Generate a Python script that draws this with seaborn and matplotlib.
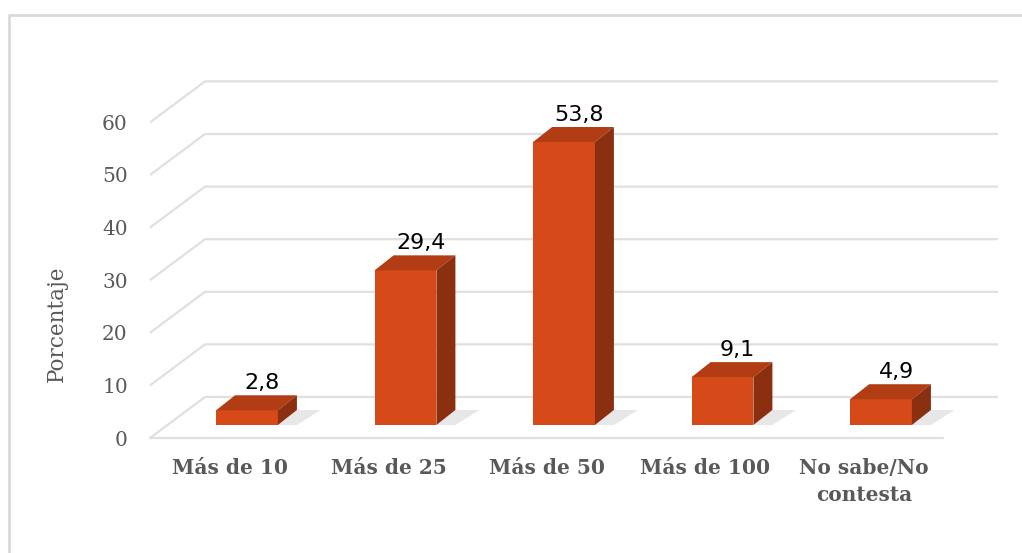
import matplotlib
matplotlib.use('Agg')
import matplotlib.pyplot as plt
from matplotlib.patches import Polygon
from matplotlib.lines import Line2D
import seaborn as sns
import pandas as pd

# Data
categorias = ['Más de 10', 'Más de 25', 'Más de 50', 'Más de 100', 'No sabe/No\ncontesta']
porcentajes = [2.8, 29.4, 53.8, 9.1, 4.9]
etiquetas = ['2,8', '29,4', '53,8', '9,1', '4,9']
ticks_y = [0, 10, 20, 30, 40, 50, 60]

df = pd.DataFrame({'Categoria': categorias, 'Porcentaje': porcentajes})

sns.set_theme(style='white')
plt.rcParams['font.family'] = ['DejaVu Serif']

W, H = 1022, 553
fig = plt.figure(figsize=(W / 100, H / 100), dpi=100)

# pixel scale of the data space (bars plane)
PX_X = 158.5   # px per category
PX_Y = 5.26    # px per percent
x0_px, y0_px = 247, 425  # pixel of category 0 / value 0

def px2x(px):
    return (px - x0_px) / PX_X

def py2y(py):
    return (y0_px - py) / PX_Y

left, right, top, bottom = 150, 1000, 75, 440
ax = fig.add_axes([left / W, 1 - bottom / H, (right - left) / W, (bottom - top) / H])

front = '#D64A1A'
top_c = '#B23C13'
side = '#8A2F0F'

sns.barplot(data=df, x='Categoria', y='Porcentaje', color=front, width=0.39,
            saturation=1, ax=ax, zorder=3)

# oblique offsets (data units)
fdx, fdy = -17 / PX_X, -13 / PX_Y     # front of floor
bdx, bdy = 38 / PX_X, 28 / PX_Y       # back wall
ddx, ddy = 19 / PX_X, 15 / PX_Y       # bar depth

grid_c = '#e0e0e0'
xl_front = px2x(150)
xl_back = xl_front + (bdx - fdx)
xr_back = px2x(998)
xr_front = px2x(943)
for v in ticks_y:
    ax.plot([xl_front, xl_back, xr_back], [v + fdy, v + bdy, v + bdy],
            color=grid_c, lw=1.6, zorder=1, clip_on=False, solid_capstyle='butt')
ax.plot([xl_front, xr_front], [fdy, fdy], color=grid_c, lw=1.6, zorder=1, clip_on=False)

# 3D faces built from the seaborn bars
for p, lab in zip(ax.patches, etiquetas):
    x0, w, h = p.get_x(), p.get_width(), p.get_height()
    p.set_edgecolor('none')
    shadow = Polygon([(x0 + w, 0), (x0 + w + ddx, ddy), (x0 + w + ddx + 0.15, ddy),
                      (x0 + w + 0.12, 0)], closed=True, facecolor='#b0b0b0',
                     alpha=0.3, edgecolor='none', zorder=2)
    ax.add_patch(shadow)
    top_face = Polygon([(x0, h), (x0 + w, h), (x0 + w + ddx, h + ddy), (x0 + ddx, h + ddy)],
                       closed=True, facecolor=top_c, edgecolor='none', zorder=4)
    side_face = Polygon([(x0 + w, 0), (x0 + w + ddx, ddy), (x0 + w + ddx, h + ddy), (x0 + w, h)],
                        closed=True, facecolor=side, edgecolor='none', zorder=4)
    ax.add_patch(top_face)
    ax.add_patch(side_face)
    ax.text(x0 + w / 2 + ddx * 0.8, h + ddy + 0.4, lab, ha='center', va='bottom',
            fontsize=16, color='black', family=['DejaVu Sans'], zorder=5)

ax.set_xlim(px2x(left), px2x(right))
ax.set_ylim(py2y(bottom), py2y(top))

ax.set_yticks([v + fdy for v in ticks_y], [str(v) for v in ticks_y])
ax.set_xticks([i + fdx for i in range(len(categorias))], categorias)
ax.tick_params(axis='y', length=0, pad=16, labelsize=14.5, labelcolor='#595959')
ax.tick_params(axis='x', length=0, pad=13, labelsize=14.5, labelcolor='#595959')
for t in ax.get_xticklabels():
    t.set_fontweight('bold')
    t.set_linespacing(1.45)
ax.set_xlabel('')
ax.set_ylabel('')
for s in ax.spines.values():
    s.set_visible(False)
ax.patch.set_alpha(0)

fig.text(57 / W, 1 - 324 / H, 'Porcentaje', rotation=90, ha='center', va='center',
         fontsize=15.5, color='#595959')

# chart frame (left and top edges)
fig.add_artist(Line2D([9 / W, 9 / W, 1], [0, 1 - 14.5 / H, 1 - 14.5 / H],
                      color='#d9d9d9', lw=2, transform=fig.transFigure))

fig.savefig('out.png', dpi=100)
